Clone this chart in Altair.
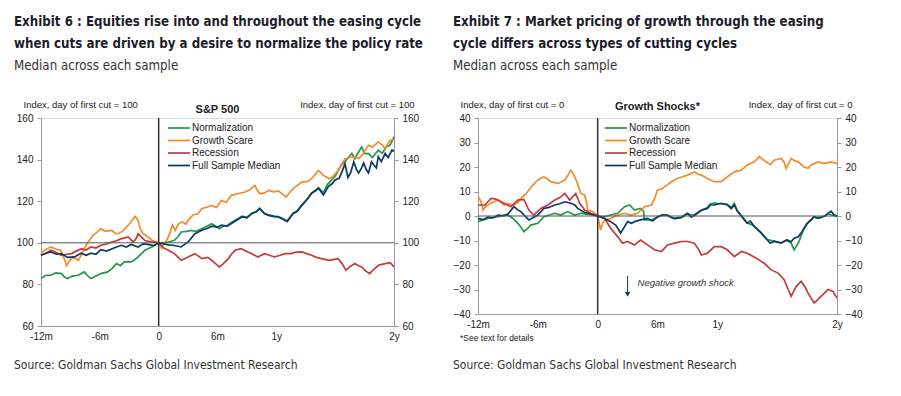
import altair as alt
import pandas as pd

SERIES = ["Normalization", "Growth Scare", "Recession", "Full Sample Median"]
COLORS = ["#23974a", "#f48a2c", "#c53a3c", "#0c3a63"]
WIDTHS = [1.7, 1.7, 1.7, 2.2]

X_TICKS = [-12, -6, 0, 6, 12, 24]
X_LABELS = ["-12m", "-6m", "0", "6m", "1y", "2y"]

# ---------------- Exhibit 6: S&P 500 (index, day of first cut = 100) -------------
spx_norm_m = [-12, -11.5, -11, -10.5, -9.9, -9.6, -9.3, -8.8, -8.2, -7.6, -7.2, -6.9, -6.4, -5.9, -5.2, -4.8, -4.3, -3.9, -3.5, -2.8, -2.4, -2.1, -1.7, -1.4, -0.7, 0, 0.5, 1, 1.6, 2, 2.3, 2.8, 3.3, 3.8, 4.4, 4.9, 5.4, 6, 6.2, 6.6, 7, 7.5, 8, 8.5, 9, 9.5, 10, 10.3, 10.8, 11.2, 11.8, 12.2, 12.6, 13.1, 13.7, 14.1, 14.6, 15.2, 15.6, 16, 16.3, 16.8, 17.2, 17.6, 18, 18.6, 19, 19.7, 20, 20.3, 20.7, 21, 21.4, 21.8, 22.4, 22.8, 23.2, 23.6, 24]
spx_norm_v = [83, 84.4, 84.4, 85.5, 85.2, 83.5, 82.8, 84, 84.4, 86, 84, 82.8, 84, 85.2, 86, 87.5, 90, 89, 90.8, 90.8, 92, 93.2, 95, 96.4, 98, 100, 100, 100.4, 101.2, 103, 105.2, 105.5, 106, 105.5, 106.8, 108, 109.2, 107.5, 106.8, 108, 108.3, 110, 111.5, 112.8, 112.3, 114.2, 115.2, 116.6, 114.2, 113.4, 112.8, 112.6, 111.8, 110.5, 114.2, 115.3, 118.2, 121.4, 124, 125.3, 126.5, 124, 128, 130, 132, 137.2, 139, 142.9, 140.4, 143, 146, 143, 142.9, 141, 144.5, 143, 146, 147, 150.9]

spx_scare_m = [-12, -11.6, -11, -10.5, -10, -9.6, -9.4, -9, -8.6, -8.2, -7.8, -7.5, -7.1, -6.7, -6.3, -5.9, -5.4, -4.8, -4.4, -4.1, -3.7, -3.3, -2.9, -2.6, -2.4, -2.1, -1.9, -1.6, -1.3, -1.1, -0.6, -0.3, 0, 0.3, 0.6, 0.8, 1.1, 1.4, 1.7, 2, 2.4, 2.8, 3, 3.5, 4, 4.4, 4.8, 5.4, 5.9, 6.4, 6.9, 7.4, 8.1, 8.8, 9.3, 9.8, 10.1, 10.3, 10.8, 11.2, 11.7, 12.2, 12.6, 13, 13.5, 13.9, 14.6, 15.2, 15.6, 16, 16.3, 16.8, 17.4, 17.8, 18.3, 18.7, 19, 19.5, 20, 20.4, 20.7, 21, 21.4, 21.8, 22.4, 22.8, 23.1, 23.6, 24]
spx_scare_v = [95, 96.5, 98, 97, 96.4, 92, 89, 92, 93, 91.5, 95, 98, 101, 103.6, 105, 106.8, 105.5, 106, 104.5, 104.4, 105.5, 107.6, 109.5, 111.5, 112.7, 110.8, 107, 104.4, 103.5, 102.8, 101, 100.5, 100, 97.5, 100, 101, 104, 108.6, 106, 109, 110, 109, 110.8, 113.4, 114, 116.4, 117, 118, 117, 120.4, 119.5, 122.8, 123.6, 124.4, 125.5, 127.6, 125, 123.6, 124, 125.2, 124.5, 125, 123.5, 122, 125, 126.8, 129.2, 129.5, 130.8, 133, 134.8, 132.4, 130.8, 132, 134.8, 138, 140.4, 141, 141.3, 140.5, 142, 144, 146.9, 146, 148.5, 147, 145.3, 149.3, 149.6]

spx_rec_m = [-12, -11.5, -11, -10.5, -9.9, -9.4, -8.9, -8.4, -7.9, -7.4, -6.9, -6.4, -5.9, -5.3, -4.8, -4.3, -3.8, -3.1, -2.6, -2.3, -2.1, -1.8, -1.4, -0.7, 0, 0.5, 1, 1.6, 2, 2.3, 2.7, 3, 3.7, 4.1, 4.4, 5, 5.4, 5.8, 6.2, 6.6, 7.1, 7.5, 7.8, 8.4, 9.1, 9.6, 10.1, 10.8, 11.3, 11.8, 12.4, 12.9, 13.5, 14, 14.6, 15.1, 15.6, 16.1, 16.6, 17.4, 18.3, 18.7, 19.1, 19.5, 20, 20.4, 20.7, 21.1, 21.5, 22, 22.4, 23.1, 23.6, 24]
spx_rec_v = [94, 95, 96.4, 95.5, 94, 94.5, 94.8, 96, 97.2, 96.5, 98, 97.5, 98.8, 99.5, 100.4, 101, 102, 102.8, 100.4, 102, 104.4, 103, 101.1, 100.4, 100, 97.5, 96.4, 94.8, 93, 91.6, 92.5, 93.2, 94.8, 93.5, 92.4, 93, 91.6, 90, 88.4, 90, 92.4, 95, 96.4, 97.2, 95.6, 94.5, 93.2, 94.8, 94, 93.2, 94, 94.8, 94.8, 95.5, 95.6, 94.8, 94, 93, 92.4, 91.6, 92.4, 90, 86.8, 88.5, 90, 89, 88.4, 86.5, 85.2, 87.5, 89.2, 90, 90.5, 88.4]

spx_full_m = [-12, -11.5, -11, -10.4, -9.9, -9.3, -8.6, -7.9, -7.4, -6.9, -6.4, -5.9, -5.3, -4.8, -4.3, -3.8, -3.3, -2.8, -2.1, -1.6, -1.1, -0.5, 0, 0.5, 1, 1.6, 2.3, 3, 3.7, 4.4, 5, 5.4, 6, 6.4, 7, 7.5, 8, 8.5, 9, 9.5, 10, 10.3, 10.8, 11.2, 11.8, 12.2, 12.6, 13.1, 13.7, 14.1, 14.6, 15.2, 15.6, 16, 16.3, 16.8, 17.3, 17.7, 18, 18.4, 18.7, 19, 19.3, 19.6, 19.9, 20.2, 20.4, 20.7, 20.9, 21.2, 21.4, 21.7, 21.9, 22.2, 22.4, 22.7, 23.1, 23.4, 23.8, 24]
spx_full_v = [94, 95, 95.6, 94.5, 94.8, 93, 93.2, 95, 94, 95, 94.5, 96.7, 96, 97, 98, 98.8, 98, 99.2, 98, 99.5, 99.2, 98.7, 100, 99.5, 99, 98.7, 98, 100.4, 104.4, 106, 107, 108, 107.5, 108.5, 108, 109.5, 111, 112.5, 112, 114, 115, 116.4, 114, 113.2, 112.6, 112.4, 111.5, 110.2, 114, 115, 118, 121.2, 123.8, 125, 126.2, 123, 127, 128.5, 130.2, 131, 134.2, 138, 131.4, 134, 139, 135, 133.6, 136, 138.4, 135, 133.6, 139, 137.6, 136, 141.4, 139, 143, 141, 144.6, 144]

# ---------------- Exhibit 7: Growth shocks (index, day of first cut = 0) ----------
gs_norm_m = [-12, -11, -10, -9, -8.5, -8, -7.7, -7.4, -7, -6.7, -6, -5.4, -4.3, -3.7, -3, -2.3, -1.7, -1, 0, 0.7, 1.3, 2, 2.7, 3.2, 3.7, 4.3, 4.6, 4.7, 5.4, 6, 6.5, 7, 7.4, 7.7, 8.4, 9, 9.7, 10.4, 11, 11.3, 11.7, 12.4, 13, 13.4, 13.7, 14, 14.4, 15, 15.7, 16.4, 17, 17.7, 18.4, 19, 19.4, 19.7, 19.9, 20.2, 20.4, 20.7, 21, 21.4, 21.7, 22.4, 23.1, 24]
gs_norm_v = [-2.3, -1, -0.3, 0.4, -1, -3, -4.5, -6.4, -5, -3.7, -3, -0.3, 1.1, 0.4, 1.8, 0.4, 1.1, 0.8, 0, -0.3, 0.4, 1.1, 3.8, 4.5, 2.4, 3.1, 2, -1.6, -1.6, -0.5, 0.3, 0.2, -0.7, -1.2, -0.7, 0.9, 0.2, 2.2, 3.5, 5, 5.3, 5, 4.8, 3.5, 5.2, 2.2, 0.2, -2.8, -4.1, -6.8, -9.6, -10.2, -10.9, -10, -11, -13.8, -12.5, -10.4, -8, -5.2, -3.2, -1.7, -0.5, -0.7, 0.9, -0.2]

gs_scare_m = [-12, -11.7, -11.5, -11.2, -10.7, -10, -9.4, -8.9, -8.5, -8, -7.7, -7.2, -6.9, -6.4, -6, -5.4, -5, -4.7, -4, -3.6, -3.3, -3, -2.7, -2.5, -2.3, -2, -1.7, -1.3, -1.1, -1, -0.5, 0, 0.3, 0.5, 0.7, 1.3, 2, 2.7, 3.3, 4, 4.7, 5.4, 5.7, 6, 6.4, 6.7, 7.4, 8, 8.5, 9, 9.7, 10.1, 10.4, 11, 11.4, 11.7, 12.4, 13, 13.7, 14.4, 15, 15.7, 16.2, 16.6, 16.9, 17.3, 17.7, 18.4, 18.7, 18.9, 19.4, 19.8, 20.1, 20.7, 21.1, 21.4, 22.1, 22.7, 23.4, 24]
gs_scare_v = [7.9, 6, 2.4, 4, 5.2, 6.5, 4.5, 5, 4.5, 5.5, 7.2, 9, 10.6, 13, 14.7, 16, 15, 14, 13.3, 14, 14.7, 16.5, 18.7, 17.5, 16, 13, 9.2, 8.5, 5, 2.4, 1.8, 0, -5.7, -3, -1.6, -1, 0.4, 1.1, 0.4, 1.1, 3.8, 4.5, 7, 10.6, 11, 11.9, 14, 15.3, 16, 16.7, 18, 17, 16.7, 15.3, 14.5, 14, 14, 16, 18, 18.7, 20.8, 22.1, 24.2, 23, 22.1, 21, 22.8, 23.5, 22, 19.4, 23.5, 22.5, 22.1, 20, 19.5, 20.8, 22.1, 21.4, 22.1, 21.4]

gs_rec_m = [-12, -11.3, -10.7, -10.3, -10, -9.4, -8.7, -8, -7.4, -6.9, -6.4, -5.7, -5, -4.3, -3.8, -3.3, -2.8, -2.2, -1.8, -1.3, -0.7, 0, 0.7, 1.3, 2, 2.5, 3, 3.7, 4.3, 5, 5.7, 6.4, 7, 7.7, 8.4, 9, 9.7, 10.1, 10.4, 11, 11.7, 12.4, 13, 13.7, 14.4, 15, 15.9, 16.7, 17.4, 18.1, 18.7, 19.1, 19.4, 19.9, 20.4, 20.8, 21.1, 21.7, 22.1, 22.4, 23.1, 23.6, 24]
gs_rec_v = [4.5, 4.5, 7.2, 7, 6.5, 5.2, 3.8, 6.5, 6.8, 2.4, 0.4, 3.1, 4.5, 6.5, 7.5, 9.2, 6.5, 9.2, 5.2, 2.4, 1.1, 0, -1, -5, -8.4, -11.1, -10.4, -11.8, -9.8, -11.8, -13.8, -14.5, -11.8, -11.1, -10.4, -10.4, -11.1, -13.5, -15.9, -15.2, -12.5, -12.5, -13.8, -16.6, -14.5, -15.2, -17.2, -19.3, -22, -23.3, -26, -30, -32.8, -28.8, -26.7, -29, -31.5, -35.5, -34, -32.8, -30, -30.8, -33.5]

gs_full_m = [-12, -11.5, -11, -10.5, -10, -9.5, -9, -8.4, -8, -7.7, -7.3, -6.9, -6.4, -6, -5.4, -4.9, -4.3, -3.8, -3.3, -2.7, -2.3, -2, -1.3, -0.7, 0, 0.7, 1.3, 1.8, 2.1, 2.3, 2.6, 3, 3.4, 3.7, 4.3, 5, 5.5, 6, 6.5, 7, 7.4, 7.7, 8.4, 9, 9.4, 9.7, 10.4, 11, 11.3, 11.7, 12.4, 13, 13.4, 13.7, 14, 14.4, 15, 15.3, 15.7, 16.4, 17, 17.3, 17.7, 18.4, 18.8, 19, 19.4, 19.7, 20.1, 20.4, 20.7, 21, 21.4, 21.7, 22.1, 22.4, 22.8, 23.1, 23.4, 23.7, 24]
gs_full_v = [-1, -1.5, -0.5, -0.8, 0.4, 0.2, 0.8, 3.8, 2.5, 1.8, 0, -1.6, -0.5, 0.4, 3.1, 3.5, 4.5, 5, 5.8, 5.2, 4.5, 3.1, 1.4, 0.8, 0, -1, -2.3, -3.7, -5.5, -7, -5, -2.3, -3, -2.3, -1.6, -1, -2, -0.3, 0.5, 0.4, -0.5, -1, -0.5, 1.1, -0.5, 0.4, 2.4, 3.1, 4.5, 4.5, 5.2, 4.5, 3, 4.5, 2, 0, -3, -2, -4.3, -7, -9.8, -11, -10.4, -11.1, -10, -9.8, -10.5, -9.1, -8.5, -7, -5, -3, -1.5, -0.3, -1, -0.5, 0, 1.1, 2, 0.5, 0]

# annotation (Exhibit 7)
arrow_m = [3.0]
arrow_top = [-24.4]
arrow_bottom = [-31.0]
arrow_head = [-32.0]
note_m = [4.0]
note_v = [-27.2]

ARIAL = "Liberation Sans, Arial, sans-serif"
NARROW = "DejaVu Sans Condensed, Liberation Sans, sans-serif"


def frame(pairs):
    rows = []
    for name, (ms, vs) in zip(SERIES, pairs):
        for m, v in zip(ms, vs):
            rows.append({"month": m, "value": v, "series": name})
    return pd.DataFrame(rows)


label_expr = " : ".join(
    f"datum.value == {t} ? '{l}'" for t, l in zip(X_TICKS, X_LABELS)
) + " : ''"


def panel(df, domain, yticks, base, width, height, title_lines, header, axis_title,
          right_title_x, title_dx, header_y, footnote=False, arrow=False):
    xenc = alt.X(
        "month:Q",
        scale=alt.Scale(domain=[-12, 24], nice=False, zero=False),
        axis=alt.Axis(values=X_TICKS, labelExpr=label_expr, title=None, ticks=False,
                      grid=False, domainColor="#9a9a9a", labelFontSize=10, labelFont=ARIAL,
                      labelColor="#222", labelPadding=5, labelFlush=False),
    )
    yscale = alt.Scale(domain=domain, nice=False, zero=False)
    lines = alt.Chart(df).mark_line().encode(
        x=xenc,
        y=alt.Y("value:Q", scale=yscale,
                axis=alt.Axis(values=yticks, orient="left", title=axis_title, titleAngle=0,
                              titleAlign="left", titleBaseline="alphabetic", titleX=-18,
                              titleY=-11, titleFontSize=9.5, titleFontWeight="normal",
                              titleFont=ARIAL, titleColor="#222", grid=False, tickSize=4,
                              labelPadding=4, labelFontSize=10, labelFont=ARIAL,
                              labelColor="#222", domainColor="#9a9a9a", tickColor="#9a9a9a")),
        color=alt.Color("series:N", sort=SERIES,
                        scale=alt.Scale(domain=SERIES, range=COLORS),
                        legend=alt.Legend(title=None, orient="none", legendX=132, legendY=4,
                                          symbolType="M-2.2,0L2.2,0", symbolSize=100,
                                          symbolStrokeWidth=2, labelFontSize=10,
                                          labelFont=ARIAL, labelColor="#222",
                                          rowPadding=1.5, labelOffset=7, padding=0)),
        strokeWidth=alt.StrokeWidth("series:N", scale=alt.Scale(domain=SERIES, range=WIDTHS),
                                    legend=None),
    )
    hrule = alt.Chart(pd.DataFrame({"value": [base]})).mark_rule(
        color="#555", strokeWidth=1).encode(
        y=alt.Y("value:Q", scale=yscale,
                axis=alt.Axis(values=yticks, orient="right", title=axis_title, titleAngle=0,
                              titleAlign="right", titleBaseline="alphabetic",
                              titleX=right_title_x, titleY=-11, titleFontSize=9.5,
                              titleFontWeight="normal", titleFont=ARIAL, titleColor="#222",
                              grid=False, tickSize=4, labelPadding=4, labelFontSize=10,
                              labelFont=ARIAL, labelColor="#222", domainColor="#9a9a9a",
                              tickColor="#9a9a9a")),
    )
    vrule = alt.Chart(pd.DataFrame({"month": [0]})).mark_rule(
        color="#333", strokeWidth=1.5).encode(x=xenc)
    head = alt.Chart(pd.DataFrame({"t": [header]})).mark_text(
        font=ARIAL, fontSize=11, fontWeight="bold", color="#222", baseline="alphabetic"
    ).encode(x=alt.value(width / 2), y=alt.value(header_y), text="t:N")
    source = alt.Chart(pd.DataFrame({"t": ["Source: Goldman Sachs Global Investment Research"]})).mark_text(
        font=NARROW, fontSize=12.0, color="#333", align="left", baseline="alphabetic"
    ).encode(x=alt.value(title_dx), y=alt.value(251), text="t:N")
    layers = [lines, hrule, vrule, head, source]
    if arrow:
        adf = pd.DataFrame({"month": arrow_m, "value": arrow_top, "value2": arrow_bottom})
        layers.append(alt.Chart(adf).mark_rule(color="#0c3a63", strokeWidth=1).encode(
            x=xenc, y=alt.Y("value:Q", scale=yscale, axis=None), y2="value2:Q"))
        hdf = pd.DataFrame({"month": arrow_m, "value": arrow_head})
        layers.append(alt.Chart(hdf).mark_point(shape="triangle-down", filled=True, size=28,
                                                color="#0c3a63", opacity=1).encode(
            x=xenc, y=alt.Y("value:Q", scale=yscale, axis=None)))
        ndf = pd.DataFrame({"month": note_m, "value": note_v, "t": ["Negative growth shock"]})
        layers.append(alt.Chart(ndf).mark_text(font=ARIAL, fontSize=9.5, fontStyle="italic",
                                               color="#333", align="left",
                                               baseline="middle").encode(
            x=xenc, y=alt.Y("value:Q", scale=yscale, axis=None), text="t:N"))
    if footnote:
        layers.append(alt.Chart(pd.DataFrame({"t": ["*See text for details"]})).mark_text(
            font=ARIAL, fontSize=8.5, color="#222", align="left", baseline="alphabetic"
        ).encode(x=alt.value(-18), y=alt.value(223), text="t:N"))
    return alt.layer(*layers).resolve_scale(y="independent").properties(
        width=width, height=height,
        title=alt.TitleParams(text=title_lines, subtitle=["Median across each sample"],
                              anchor="start", frame="group", dx=title_dx, offset=26,
                              font=NARROW, fontSize=13.2, fontWeight="bold", color="#1d1d2b",
                              lineHeight=22, subtitleFont=NARROW, subtitleFontSize=13.2,
                              subtitleColor="#333", subtitlePadding=9),
    )


left = panel(
    frame([(spx_norm_m, spx_norm_v), (spx_scare_m, spx_scare_v), (spx_rec_m, spx_rec_v),
           (spx_full_m, spx_full_v)]),
    [60, 160], [60, 80, 100, 120, 140, 160], 100, 353, 208,
    ["Exhibit 6 : Equities rise into and throughout the easing cycle",
     "when cuts are driven by a desire to normalize the policy rate"],
    "S&P 500", "Index, day of first cut = 100", 20, -27, -5,
)
right = panel(
    frame([(gs_norm_m, gs_norm_v), (gs_scare_m, gs_scare_v), (gs_rec_m, gs_rec_v),
           (gs_full_m, gs_full_v)]),
    [-40, 40], [-40, -30, -20, -10, 0, 10, 20, 30, 40], 0, 359, 196,
    ["Exhibit 7 : Market pricing of growth through the easing",
     "cycle differs across types of cutting cycles"],
    "Growth Shocks*", "Index, day of first cut = 0", 15, -25, -8,
    footnote=True, arrow=True,
)

chart = alt.hconcat(left, right, spacing=84, bounds="flush").resolve_scale(
    color="independent", strokeWidth="independent"
).properties(padding={"left": 5, "top": 6, "right": 5, "bottom": 5}).configure_view(
    stroke=None
).configure(background="white")

chart.save("out.html", embed_options={"renderer": "svg", "actions": False})
